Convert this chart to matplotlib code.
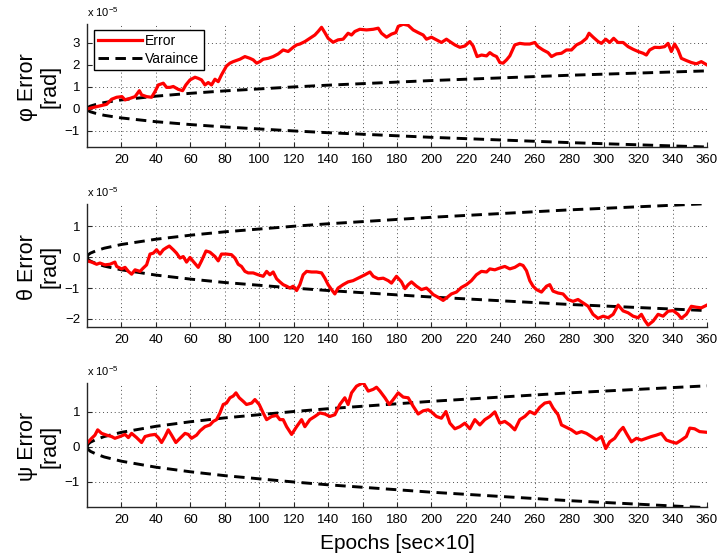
import matplotlib
matplotlib.use("Agg")
import matplotlib.pyplot as plt
from matplotlib.lines import Line2D

plt.rcParams['font.family'] = ['Liberation Sans', 'DejaVu Sans']
plt.rcParams['mathtext.default'] = 'regular'

# Attitude error (units of 1e-5 rad) against epoch
phi_t = [0, 7.5, 11.4, 14.3, 17.2, 20.3, 22.1, 25.0, 27.9, 30.4,
         31.7, 34.6, 37.5, 39.5, 41.4, 44.3, 46.2, 48.2, 50.1, 53.0,
         55.5, 57.4, 59.8, 62.7, 64.6, 66.5, 68.5, 70.4, 72.3, 74.3,
         76.2, 78.1, 81.0, 83.0, 84.9, 88.8, 91.7, 94.6, 96.5, 98.5,
         100.4, 102.3, 105.2, 108.1, 111.0, 113.9, 116.8, 119.7, 121.7, 123.6,
         126.5, 129.4, 132.3, 134.2, 136.2, 138.1, 140.0, 142.9, 145.8, 148.7,
         151.6, 153.6, 155.5, 158.4, 162.3, 166.2, 169.1, 171.0, 173.9, 176.8,
         179.3, 180.7, 183.6, 186.5, 189.4, 192.3, 195.2, 197.1, 200.0, 202.9,
         205.8, 208.7, 210.7, 213.6, 216.5, 219.4, 222.3, 224.2, 226.5, 229.1,
         232.0, 233.9, 235.8, 237.8, 239.7, 241.6, 243.6, 245.5, 248.4, 251.3,
         254.2, 257.1, 260.0, 261.9, 264.8, 267.7, 269.7, 272.6, 275.5, 278.4,
         281.3, 284.2, 287.1, 290.0, 291.5, 293.9, 296.8, 298.7, 301.2, 303.5,
         305.8, 308.3, 311.3, 314.2, 317.1, 320.0, 322.9, 324.8, 326.7, 329.6,
         332.5, 335.4, 337.4, 339.3, 341.2, 343.2, 345.1, 348.0, 350.9, 353.8,
         356.7, 360.0]
phi_err = [0.0, 0.14, 0.21, 0.44, 0.53, 0.56, 0.41, 0.48, 0.56, 0.83,
           0.64, 0.56, 0.53, 0.79, 1.09, 1.17, 0.98, 0.98, 1.02, 0.89,
           0.83, 1.09, 1.32, 1.44, 1.39, 1.32, 1.09, 1.20, 1.09, 1.35,
           1.24, 1.55, 1.95, 2.08, 2.15, 2.26, 2.38, 2.30, 2.23, 2.08,
           2.15, 2.26, 2.30, 2.38, 2.50, 2.68, 2.61, 2.80, 2.91, 2.95,
           3.06, 3.21, 3.36, 3.52, 3.71, 3.47, 3.21, 3.03, 3.14, 3.17,
           3.44, 3.36, 3.52, 3.62, 3.59, 3.62, 3.67, 3.44, 3.26, 3.40,
           3.47, 3.75, 3.85, 3.80, 3.59, 3.47, 3.36, 3.17, 3.26, 3.14,
           3.02, 3.17, 3.06, 2.91, 2.80, 2.86, 3.06, 2.86, 2.38, 2.45,
           2.41, 2.56, 2.45, 2.38, 2.11, 2.08, 2.23, 2.41, 2.91, 2.98,
           2.95, 2.95, 3.02, 2.83, 2.68, 2.56, 2.38, 2.50, 2.53, 2.68,
           2.68, 2.91, 3.02, 3.21, 3.44, 3.26, 3.06, 2.98, 3.17, 3.02,
           3.21, 3.02, 3.02, 2.83, 2.71, 2.61, 2.53, 2.45, 2.68, 2.80,
           2.79, 2.83, 2.98, 2.61, 2.95, 2.68, 2.30, 2.20, 2.11, 2.05,
           2.15, 2.00]

theta_t = [0, 2.7, 5.6, 7.5, 10.4, 13.3, 16.2, 17.2, 20.1, 22.1,
           24.0, 25.9, 27.9, 30.8, 32.7, 34.6, 36.6, 38.5, 40.4, 42.4,
           44.3, 46.2, 47.8, 50.1, 52.0, 54.0, 55.9, 57.8, 59.8, 61.7,
           64.6, 66.5, 69.1, 71.4, 74.3, 76.2, 78.1, 81.0, 83.9, 85.9,
           87.8, 89.7, 91.7, 93.6, 96.5, 99.4, 102.3, 104.3, 106.2, 108.1,
           110.1, 112.0, 113.9, 115.9, 117.8, 119.7, 121.7, 123.6, 125.5, 127.5,
           130.4, 133.3, 136.2, 138.1, 140.0, 142.0, 143.9, 145.8, 148.7, 151.6,
           154.5, 157.4, 161.4, 164.3, 166.2, 169.1, 172.0, 174.9, 176.8, 179.7,
           182.6, 184.6, 186.5, 188.4, 191.3, 194.2, 197.1, 199.1, 201.0, 203.9,
           206.8, 208.7, 211.6, 214.5, 217.4, 220.3, 223.2, 226.1, 229.0, 232.0,
           233.9, 236.8, 239.7, 242.6, 245.5, 248.4, 251.3, 253.2, 255.2, 257.1,
           259.0, 261.0, 263.9, 266.8, 268.7, 270.6, 273.5, 276.4, 279.3, 282.2,
           285.1, 288.0, 291.0, 293.8, 296.7, 299.7, 302.6, 305.5, 308.4, 311.3,
           314.2, 317.1, 320.0, 321.9, 323.9, 325.8, 328.7, 331.6, 334.5, 337.4,
           340.3, 343.2, 345.1, 348.0, 350.9, 353.8, 356.7, 360.0]
theta_err = [-0.12, -0.16, -0.23, -0.19, -0.25, -0.23, -0.16, -0.30, -0.38, -0.33,
             -0.46, -0.55, -0.41, -0.46, -0.35, -0.25, 0.10, 0.13, 0.24, 0.10,
             0.24, 0.31, 0.36, 0.24, 0.13, -0.03, 0.02, -0.16, -0.01, -0.14,
             -0.33, -0.12, 0.20, 0.16, 0.02, -0.12, 0.10, 0.10, 0.08, -0.03,
             -0.23, -0.30, -0.46, -0.51, -0.51, -0.57, -0.62, -0.46, -0.57, -0.48,
             -0.70, -0.80, -0.89, -0.94, -1.00, -0.94, -1.08, -0.89, -0.57, -0.46,
             -0.48, -0.48, -0.51, -0.68, -0.89, -1.05, -1.19, -1.00, -0.89, -0.80,
             -0.76, -0.68, -0.57, -0.48, -0.62, -0.70, -0.68, -0.76, -0.84, -0.62,
             -0.80, -1.02, -0.89, -0.80, -0.94, -1.05, -1.00, -1.10, -1.21, -1.30,
             -1.40, -1.32, -1.19, -1.13, -0.98, -0.89, -0.76, -0.57, -0.46, -0.48,
             -0.38, -0.41, -0.35, -0.30, -0.38, -0.33, -0.23, -0.27, -0.44, -0.76,
             -0.94, -1.05, -1.13, -0.94, -0.89, -1.10, -1.16, -1.19, -1.37, -1.43,
             -1.37, -1.48, -1.59, -1.85, -1.98, -1.91, -1.96, -1.85, -1.55, -1.74,
             -1.80, -1.91, -1.96, -1.85, -2.05, -2.20, -2.07, -1.85, -1.91, -1.75,
             -1.73, -1.85, -1.98, -1.85, -1.59, -1.62, -1.64, -1.55]

psi_t = [0, 2.7, 4.6, 6.2, 8.5, 11.4, 14.3, 16.2, 19.1, 22.1,
         24.0, 25.9, 28.8, 31.7, 33.7, 36.6, 39.5, 41.4, 43.3, 45.3,
         47.2, 49.1, 51.6, 54.0, 56.9, 58.8, 60.7, 63.6, 65.6, 68.5,
         71.4, 73.3, 75.2, 77.2, 79.1, 81.0, 83.0, 84.9, 86.5, 88.4,
         90.7, 92.6, 95.6, 97.5, 100.0, 102.3, 104.3, 107.2, 110.1, 112.0,
         113.9, 115.9, 118.8, 121.7, 124.6, 126.5, 129.4, 132.3, 135.2, 138.1,
         141.0, 143.9, 146.8, 149.7, 151.6, 153.6, 156.5, 160.4, 163.3, 166.2,
         168.1, 170.1, 173.0, 175.5, 177.8, 180.7, 183.6, 186.5, 189.4, 192.3,
         195.2, 198.1, 200.0, 202.9, 205.8, 208.4, 210.7, 213.6, 216.5, 219.4,
         222.3, 225.2, 228.1, 231.0, 233.9, 236.8, 239.7, 242.6, 245.5, 248.4,
         251.3, 254.2, 257.1, 260.0, 262.9, 265.8, 268.7, 270.6, 273.5, 275.5,
         278.4, 281.3, 284.2, 287.1, 290.0, 292.9, 295.8, 298.7, 301.2, 303.5,
         306.4, 309.3, 311.3, 313.2, 316.1, 319.0, 321.9, 324.8, 327.7, 330.6,
         333.5, 336.4, 339.3, 342.2, 345.1, 348.0, 350.0, 352.8, 355.7, 360.0]
psi_err = [0.10, 0.24, 0.33, 0.48, 0.38, 0.33, 0.29, 0.24, 0.29, 0.35,
           0.26, 0.38, 0.26, 0.12, 0.29, 0.33, 0.35, 0.26, 0.12, 0.29,
           0.48, 0.33, 0.12, 0.24, 0.38, 0.35, 0.24, 0.33, 0.45, 0.57,
           0.62, 0.72, 0.77, 0.96, 1.20, 1.24, 1.39, 1.44, 1.53, 1.39,
           1.29, 1.20, 1.24, 1.34, 1.20, 0.96, 0.77, 0.86, 0.89, 0.77,
           0.77, 0.57, 0.35, 0.57, 0.77, 0.57, 0.77, 0.86, 0.96, 0.93,
           0.86, 0.91, 1.20, 1.39, 1.20, 1.53, 1.72, 1.82, 1.58, 1.63,
           1.69, 1.58, 1.39, 1.20, 1.34, 1.53, 1.41, 1.39, 1.15, 0.93,
           1.02, 1.05, 0.99, 0.86, 0.81, 1.00, 0.67, 0.51, 0.57, 0.67,
           0.51, 0.77, 0.62, 0.77, 0.86, 0.99, 0.67, 0.72, 0.62, 0.48,
           0.77, 0.86, 1.00, 0.93, 1.12, 1.24, 1.27, 1.10, 0.91, 0.62,
           0.55, 0.48, 0.38, 0.43, 0.38, 0.29, 0.19, 0.29, -0.05, 0.14,
           0.24, 0.45, 0.55, 0.38, 0.14, 0.24, 0.19, 0.24, 0.29, 0.33,
           0.38, 0.19, 0.14, 0.10, 0.19, 0.29, 0.53, 0.51, 0.43, 0.41]

# Variance bound (symmetric, same for all three angles)
var_t = [0, 0.5, 1, 2, 5, 10, 20, 40, 60, 80, 100, 120, 140, 160, 180,
         200, 220, 240, 260, 280, 300, 320, 340, 360]
var_bound = [0, 0.06, 0.09, 0.13, 0.20, 0.29, 0.41, 0.58, 0.71, 0.82, 0.91,
             1.00, 1.08, 1.15, 1.22, 1.29, 1.35, 1.41, 1.47, 1.53, 1.58,
             1.63, 1.68, 1.73]

x_ticks = list(range(20, 361, 20))

panels = [
    (phi_t, phi_err, '\u03c6 Error\n[rad]', [-1, 0, 1, 2, 3], (-1.73, 3.86)),
    (theta_t, theta_err, '\u03b8 Error\n[rad]', [-2, -1, 0, 1], (-2.26, 1.72)),
    (psi_t, psi_err, '\u03c8 Error\n[rad]', [-1, 0, 1], (-1.71, 1.81)),
]

W, H = 719, 558
fig = plt.figure(figsize=(W / 100, H / 100), dpi=100)
boxes = [(24, 147), (204, 327), (383, 507)]
left, right = 87, 707

DASH = (3.6, 2.2)
axes = []
for (top, bot), (t, err, ylab, yt, ylim) in zip(boxes, panels):
    ax = fig.add_axes([left / W, 1 - bot / H, (right - left) / W, (bot - top) / H])
    axes.append(ax)
    ax.plot(var_t, var_bound, color='black', lw=2.1, dashes=DASH)
    ax.plot(var_t, [-v for v in var_bound], color='black', lw=2.1, dashes=DASH)
    ax.plot(t, err, color='#ff0000', lw=2.3)
    ax.set_xlim(0, 360)
    ax.set_ylim(*ylim)
    ax.set_xticks(x_ticks)
    ax.set_yticks(yt)
    ax.set_yticklabels(['\u2212' + str(-v) if v < 0 else str(v) for v in yt])
    ax.grid(True, color='0.3', linestyle=(0, (1, 3)), lw=0.7)
    for s in ('top', 'right'):
        ax.spines[s].set_visible(False)
    for s in ('left', 'bottom'):
        ax.spines[s].set_color('0.15')
        ax.spines[s].set_linewidth(1.0)
    ax.tick_params(direction='in', length=3.5, width=0.8, labelsize=9.5,
                   colors='0.15', labelcolor='black', pad=5)
    ax.set_ylabel(ylab, fontsize=15.5, linespacing=1.15)
    ax.yaxis.set_label_coords(-0.042, 0.49)
    ax.text(0.0, 1.055, 'x 10$^{\u22125}$', transform=ax.transAxes,
            fontsize=8, ha='left', va='baseline')

handles = [Line2D([], [], color='#ff0000', lw=2.3),
           Line2D([], [], color='black', lw=2.1, dashes=DASH)]
leg = axes[0].legend(handles, ['Error', 'Varaince'], loc='upper left',
                     bbox_to_anchor=(0.011, 0.95), borderaxespad=0,
                     fontsize=10, fancybox=False, framealpha=1,
                     edgecolor='black', handlelength=3.2, handletextpad=0.2,
                     borderpad=0.3, labelspacing=0.25)
leg.get_frame().set_linewidth(1.0)

axes[2].set_xlabel('Epochs [sec\u00d710]', fontsize=15, labelpad=6)

fig.savefig('out.png', dpi=100)
